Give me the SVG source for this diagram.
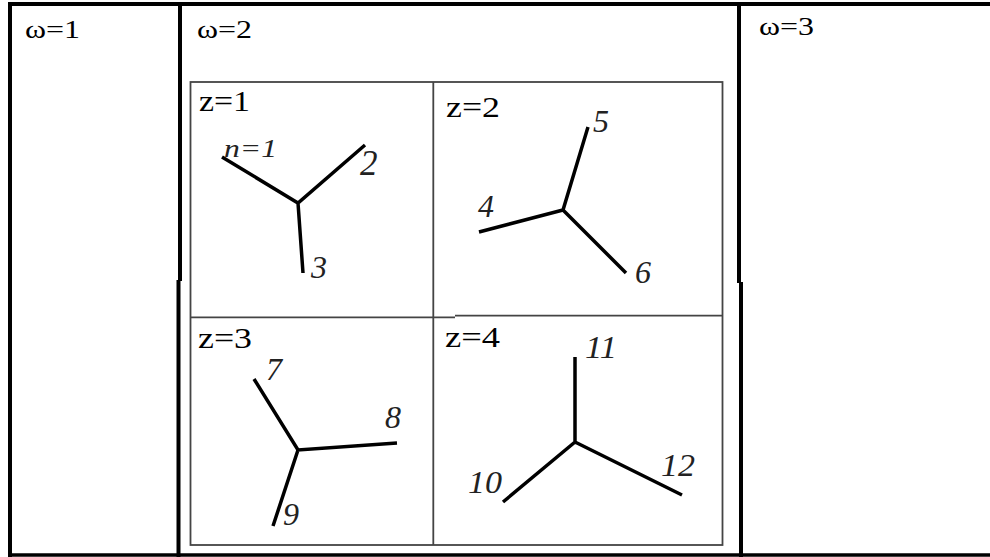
<svg xmlns="http://www.w3.org/2000/svg" width="990" height="557" viewBox="0 0 990 557">
<style>
.frame{fill:none;stroke:#000;stroke-width:4}
.thin{fill:none;stroke:#444;stroke-width:1.8}
.br{fill:none;stroke:#000;stroke-width:3.5;stroke-linecap:butt}
.w{font-family:"Liberation Serif","Times New Roman",serif;font-size:26px;fill:#000}
.z{font-family:"Liberation Serif","Times New Roman",serif;font-size:30px;fill:#000}
.n{font-family:"Liberation Serif","Times New Roman",serif;font-style:italic;font-size:32px;fill:#222}
</style>
<rect width="990" height="557" fill="#fff"/>
<g id="frame">
<path class="frame" d="M8 4H990"/>
<path class="frame" d="M10 2V557"/>
<path class="frame" d="M8 555H990" style="stroke-width:3.5"/>
<path class="frame" d="M180 2V281M178.5 280V557"/>
<path class="frame" d="M739 2V283M741 282V557"/>
</g>
<g id="omega1"><text class="w" x="25" y="38" textLength="55" lengthAdjust="spacingAndGlyphs">ω=1</text></g>
<g id="omega2"><text class="w" x="197" y="38" textLength="55" lengthAdjust="spacingAndGlyphs">ω=2</text></g>
<g id="omega3"><text class="w" x="759" y="35" textLength="55" lengthAdjust="spacingAndGlyphs">ω=3</text></g>
<g id="grid">
<rect class="thin" x="190.5" y="82" width="532" height="463"/>
<path class="thin" d="M433.3 82V545"/>
<path class="thin" d="M190 317.3H455M455 315.7H722"/>
</g>
<g id="z1">
<text class="z" x="199" y="111" textLength="51" lengthAdjust="spacingAndGlyphs">z=1</text>
<path class="br" d="M222 157L298 203L365 145M298 203L303 273"/>
<text class="n" x="224" y="157" style="font-size:26px" textLength="53" lengthAdjust="spacingAndGlyphs">n=1</text>
<text class="n" x="360" y="175" style="font-size:35px">2</text>
<text class="n" x="311" y="278">3</text>
</g>
<g id="z2">
<text class="z" x="446" y="117" textLength="54" lengthAdjust="spacingAndGlyphs">z=2</text>
<path class="br" d="M588 127L563 210L479 232M563 210L626 273"/>
<text class="n" x="593" y="132">5</text>
<text class="n" x="478" y="217">4</text>
<text class="n" x="635" y="283">6</text>
</g>
<g id="z3">
<text class="z" x="198" y="348" textLength="54" lengthAdjust="spacingAndGlyphs">z=3</text>
<path class="br" d="M254 379L298 450L397 443M298 450L273 526"/>
<text class="n" x="266" y="380">7</text>
<text class="n" x="385" y="428">8</text>
<text class="n" x="283" y="525">9</text>
</g>
<g id="z4">
<text class="z" x="445" y="347" textLength="55" lengthAdjust="spacingAndGlyphs">z=4</text>
<path class="br" d="M575 357L575 442L503 502M575 442L682 495"/>
<text class="n" x="585" y="358" textLength="32" lengthAdjust="spacingAndGlyphs">11</text>
<text class="n" x="468" y="493" textLength="34" lengthAdjust="spacingAndGlyphs">10</text>
<text class="n" x="661" y="476" textLength="34" lengthAdjust="spacingAndGlyphs">12</text>
</g>
</svg>
